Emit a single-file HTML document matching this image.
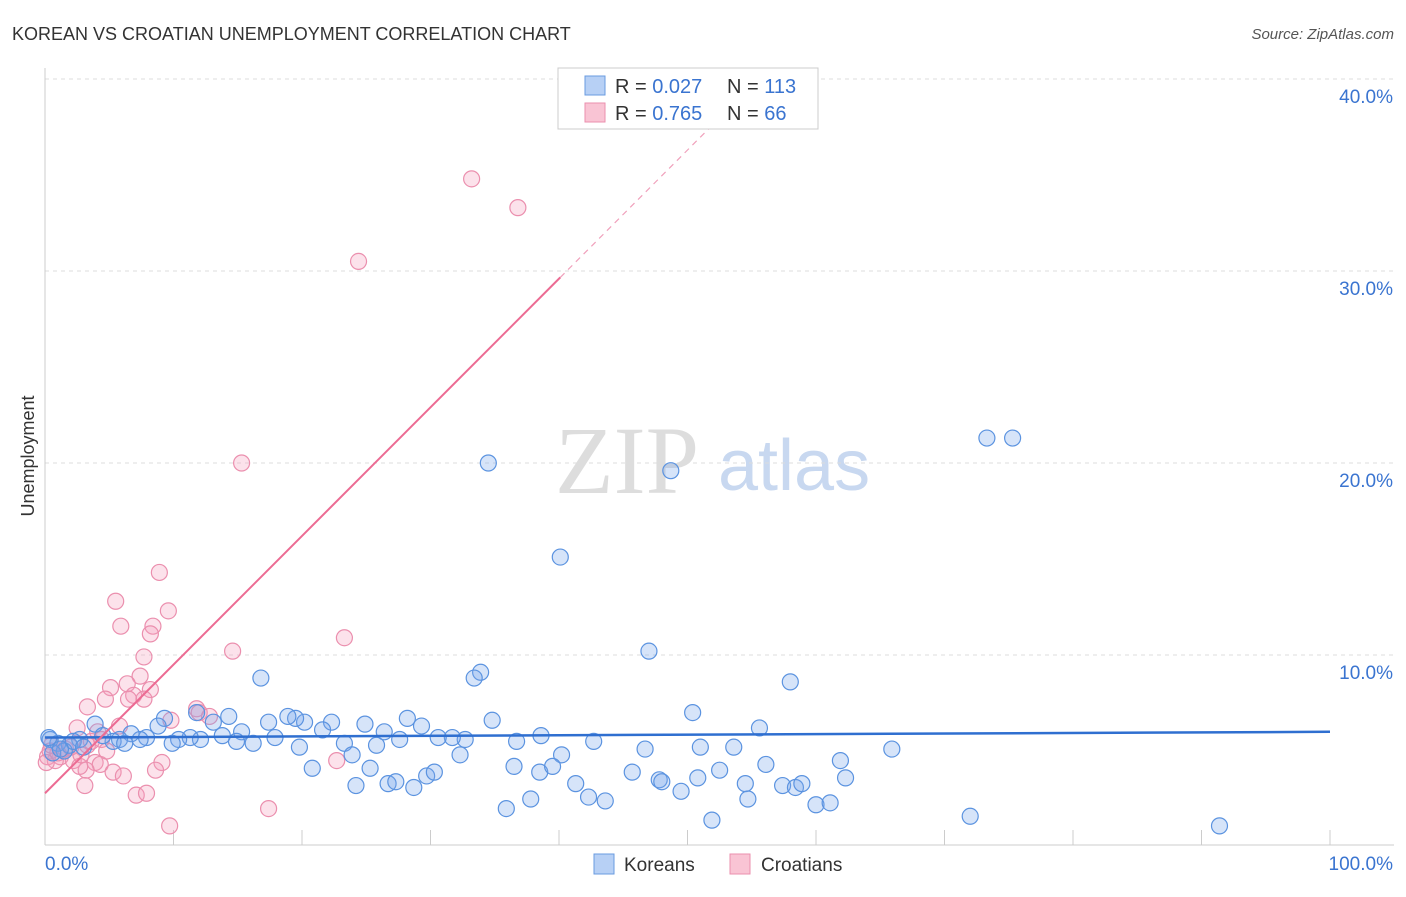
<!DOCTYPE html>
<html><head><meta charset="utf-8"><style>
body{margin:0;background:#fff;font-family:"Liberation Sans",sans-serif;}
svg text{font-family:"Liberation Sans",sans-serif;}
</style></head><body>
<svg id="chart" width="1406" height="892" xmlns="http://www.w3.org/2000/svg">
<text x="12" y="40" font-size="18" fill="#333">KOREAN VS CROATIAN UNEMPLOYMENT CORRELATION CHART</text>
<text x="1394" y="39" font-size="15" fill="#555" font-style="italic" text-anchor="end">Source: ZipAtlas.com</text>
<g>
<text x="555" y="493" font-size="96" fill="#ddd" style="font-family:'Liberation Serif',serif">ZIP</text>
<text x="718" y="490" font-size="72" fill="#c8d8f0">atlas</text>
</g>
<g id="grid"></g>
<g id="axes"></g>
<g id="marks"></g>
<text transform="translate(34,456) rotate(-90)" font-size="18" fill="#333" text-anchor="middle">Unemployment</text>
<g>
<rect x="558" y="68" width="260" height="61" fill="#fff" stroke="#ccc"/>
<rect x="585" y="76" width="20" height="19" fill="#b7d0f5" stroke="#6a9be0"/>
<rect x="585" y="103" width="20" height="19" fill="#f9c4d4" stroke="#eb8fae"/>
<text x="615" y="93" font-size="20" fill="#333">R = <tspan fill="#3a74d0">0.027</tspan></text>
<text x="727" y="93" font-size="20" fill="#333">N = <tspan fill="#3a74d0">113</tspan></text>
<text x="615" y="120" font-size="20" fill="#333">R = <tspan fill="#3a74d0">0.765</tspan></text>
<text x="727" y="120" font-size="20" fill="#333">N = <tspan fill="#3a74d0"> 66</tspan></text>
</g>
<g>
<rect x="594" y="854" width="20" height="20" fill="#b7d0f5" stroke="#6a9be0"/>
<text x="624" y="871" font-size="19" fill="#333">Koreans</text>
<rect x="730" y="854" width="20" height="20" fill="#f9c4d4" stroke="#eb8fae"/>
<text x="761" y="871" font-size="19" fill="#333">Croatians</text>
</g>
</svg>
<script>
const blueX=[34.5,48.7,73.3,75.3,40.1,47.0,58.0,33.9,33.4,16.8,50.4,55.6,65.9,61.9,62.3,51.0,53.6,46.7,42.7,40.2,38.6,36.7,34.8,32.7,31.7,30.6,29.3,28.2,27.6,26.4,25.8,24.9,23.3,22.3,21.6,20.2,19.5,18.9,19.8,17.9,17.4,16.2,15.3,14.9,14.3,13.8,13.1,12.1,11.8,11.3,10.4,9.9,9.3,8.8,7.9,7.4,6.7,5.8,5.3,3.9,2.7,1.9,1.0,0.4,20.8,23.9,25.3,24.2,26.7,27.3,28.7,29.7,30.3,32.3,36.5,38.5,39.5,41.3,42.3,43.6,37.8,35.9,45.7,47.8,48.0,49.5,50.8,52.5,54.5,54.7,56.1,57.4,58.4,58.9,60.0,61.1,51.9,72.0,91.4,0.3,1.5,2.2,3.0,4.5,6.2,0.6,1.2];
const blueY=[20.0,19.6,21.3,21.3,15.1,10.2,8.6,9.1,8.8,8.8,7.0,6.2,5.1,4.5,3.6,5.2,5.2,5.1,5.5,4.8,5.8,5.5,6.6,5.6,5.7,5.7,6.3,6.7,5.6,6.0,5.3,6.4,5.4,6.5,6.1,6.5,6.7,6.8,5.2,5.7,6.5,5.4,6.0,5.5,6.8,5.8,6.5,5.6,7.0,5.7,5.6,5.4,6.7,6.3,5.7,5.6,5.9,5.6,5.5,6.4,5.6,5.3,5.4,5.6,4.1,4.8,4.1,3.2,3.3,3.4,3.1,3.7,3.9,4.8,4.2,3.9,4.2,3.3,2.6,2.4,2.5,2.0,3.9,3.5,3.4,2.9,3.6,4.0,3.3,2.5,4.3,3.2,3.1,3.3,2.2,2.3,1.4,1.6,1.1,5.7,5.0,5.5,5.2,5.8,5.4,4.9,5.1];
const pinkX=[33.2,36.8,24.4,15.3,8.9,5.5,9.6,5.9,8.4,8.2,23.3,14.6,7.7,7.4,6.4,5.1,8.2,6.9,4.7,7.7,3.3,6.5,11.8,12.0,12.8,9.8,5.8,2.5,4.1,4.4,3.3,1.6,1.2,0.2,0.8,2.2,3.9,4.3,3.2,2.7,5.3,6.1,9.1,8.6,22.7,3.1,7.1,7.9,17.4,9.7,0.4,0.1,1.0,2.0,2.8,3.6,4.8,0.5];
const pinkY=[34.8,33.3,30.5,20.0,14.3,12.8,12.3,11.5,11.5,11.1,10.9,10.2,9.9,8.9,8.5,8.3,8.2,7.9,7.7,7.7,7.3,7.7,7.2,7.0,6.8,6.6,6.3,6.2,6.0,5.6,5.3,5.1,4.7,4.7,4.5,4.5,4.4,4.3,4.0,4.2,3.9,3.7,4.4,4.0,4.5,3.2,2.7,2.8,2.0,1.1,5.0,4.4,4.9,5.2,4.8,5.5,5.0,5.3];
const yTicks=[10,20,30,40];
const yTickLabels=["10.0%","20.0%","30.0%","40.0%"];
const xTickVals=[0,10,20,30,40,50,60,70,80,90,100];
const blueTrend=[5.7,0.003];   // intercept, slope
const pinkTrend=[2.8,0.67];
const NS="http://www.w3.org/2000/svg";
const X=v=>45+v*12.85, Y=v=>847-v*19.2;
function mk(t,a,p){const e=document.createElementNS(NS,t);for(const k in a)e.setAttribute(k,a[k]);p.appendChild(e);return e;}
const grid=document.getElementById('grid'),axes=document.getElementById('axes'),marks=document.getElementById('marks');
yTicks.forEach((v,i)=>{
 const l=mk('line',{x1:45,x2:1394,y1:Y(v),y2:Y(v),stroke:'#ddd','stroke-dasharray':'4,4'},grid);
 
 
 const t=mk('text',{x:1393,y:Y(v)+24,'font-size':19,fill:'#3a74d0','text-anchor':'end'},axes);
 t.textContent=yTickLabels[i];
 
 
});
const yl=mk('line',{x1:45,x2:45,y1:68,y2:845,stroke:'#ccc'},axes);


const xl=mk('line',{x1:45,x2:1394,y1:845,y2:845,stroke:'#ccc'},axes);


xTickVals.forEach(v=>{
 const t=mk('line',{x1:X(v),x2:X(v),y1:830,y2:845,stroke:'#ccc'},axes);
 
 
});
const x0=mk('text',{x:45,y:870,'font-size':19,fill:'#3a74d0'},axes);x0.textContent='0.0%';


const x1=mk('text',{x:1393,y:870,'font-size':19,fill:'#3a74d0','text-anchor':'end'},axes);x1.textContent='100.0%';


pinkX.forEach((v,i)=>{
 const c=mk('circle',{cx:X(v),cy:Y(pinkY[i]),r:8,fill:'rgba(244,160,190,0.3)',stroke:'#eb8fae','stroke-width':1.2},marks);
 
 
});
blueX.forEach((v,i)=>{
 const c=mk('circle',{cx:X(v),cy:Y(blueY[i]),r:8,fill:'rgba(120,165,235,0.3)',stroke:'#5b93e0','stroke-width':1.2},marks);
 
 
});
const bt=mk('line',{x1:X(0),y1:Y(blueTrend[0]),x2:X(100),y2:Y(blueTrend[0]+100*blueTrend[1]),stroke:'#2f6fd0','stroke-width':2.5},marks);


const pe=40.1,pd=51.8;
const pt=mk('line',{x1:X(0),y1:Y(pinkTrend[0]),x2:X(pe),y2:Y(pinkTrend[0]+pe*pinkTrend[1]),stroke:'#ec6b93','stroke-width':2},marks);


const pdl=mk('line',{x1:X(pe),y1:Y(pinkTrend[0]+pe*pinkTrend[1]),x2:X(pd),y2:Y(pinkTrend[0]+pd*pinkTrend[1]),stroke:'#f0a0bb','stroke-width':1.2,'stroke-dasharray':'6,5'},marks);


</script>
</body></html>
